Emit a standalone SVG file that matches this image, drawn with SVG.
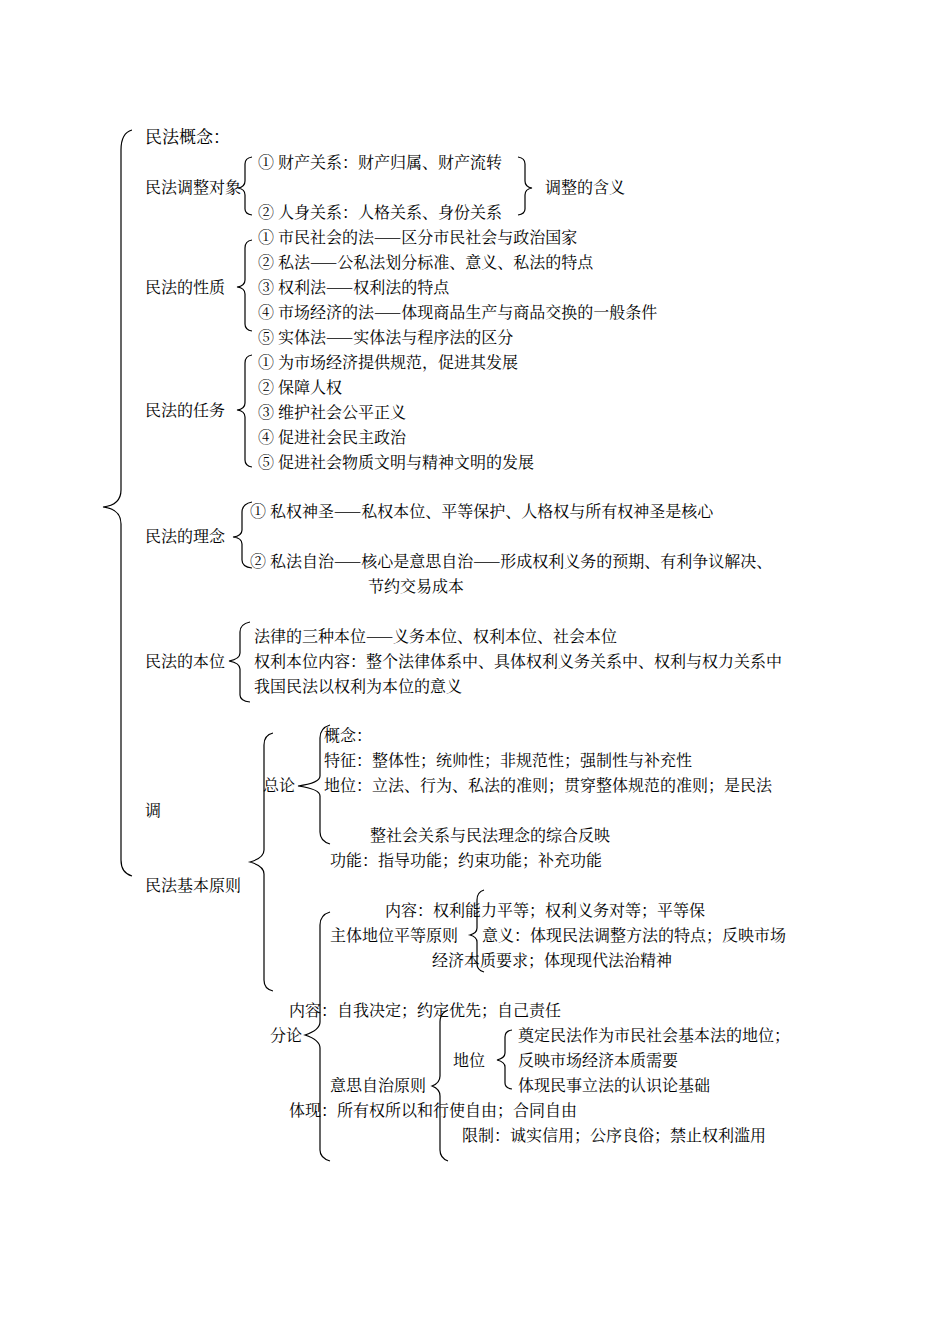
<svg xmlns="http://www.w3.org/2000/svg" width="950" height="1344" viewBox="0 0 950 1344">
<style>
text{font-family:"Noto Serif CJK SC","Noto Sans CJK SC",serif;font-size:16px;fill:#000}
.b{fill:none;stroke:#000;stroke-width:1.2}
</style>
<rect width="950" height="1344" fill="#fff"/>
<g id="connectors">
<path class="b" d="M132,130 Q121,133 121,150 L121,490 Q121,505 103,507 Q121,509 121,524 L121,860 Q121,873 132,876"/>
<path class="b" d="M252,157 Q245,158 245,164 L245,181 Q245,187 238,188 Q245,189 245,195 L245,209 Q245,214 252,215"/>
<path class="b" d="M518,157 Q525,158 525,164 L525,181 Q525,187 532,188 Q525,189 525,195 L525,209 Q525,214 518,215"/>
<path class="b" d="M252,240 Q245,241 245,248 L245,280 Q245,286 237,287 Q245,288 245,294 L245,324 Q245,330 252,331"/>
<path class="b" d="M252,355 Q245,356 245,363 L245,403 Q245,409 237,410 Q245,411 245,417 L245,460 Q245,466 252,467"/>
<path class="b" d="M252,502 Q242,504 242,512 L242,530 Q242,536 233,537 Q242,538 242,544 L242,560 Q242,567 252,568"/>
<path class="b" d="M250,622 Q240,624 240,632 L240,653 Q240,659 229,661 Q240,663 240,669 L240,695 Q240,701 250,702"/>
<path class="b" d="M273,733 Q264,735 264,745 L264,850 Q264,858 250,862 Q264,866 264,874 L264,980 Q264,989 273,991"/>
<path class="b" d="M330,725 Q320,728 320,738 L320,776 Q320,783 298,786 Q320,789 320,796 L320,832 Q320,841 330,844"/>
<path class="b" d="M330,912 Q320,915 320,925 L320,1022 Q320,1030 305,1035 Q320,1040 320,1048 L320,1150 Q320,1158 330,1161"/>
<path class="b" d="M484,890 Q477,892 477,900 L477,928 Q477,933 470,935 Q477,937 477,942 L477,964 Q477,970 484,972"/>
<path class="b" d="M448,1010 Q440,1013 440,1022 L440,1076 Q440,1083 432,1086 Q440,1089 440,1096 L440,1150 Q440,1158 448,1161"/>
<path class="b" d="M512,1030 Q505,1031 505,1037 L505,1053 Q505,1058 497,1060 Q505,1062 505,1067 L505,1083 Q505,1088 512,1089"/>
</g>
<g id="n-root"><text x="145" y="143" style="font-size:17px">民法概念：</text></g>
<g id="n-duixiang">
<text x="145" y="193">民法调整对象</text>
<text x="258" y="168">① 财产关系：财产归属、财产流转</text>
<text x="258" y="218">② 人身关系：人格关系、身份关系</text>
<text x="545" y="193">调整的含义</text>
</g>
<g id="n-xingzhi">
<text x="145" y="293">民法的性质</text>
<text x="258" y="243">① 市民社会的法——区分市民社会与政治国家</text>
<text x="258" y="268">② 私法——公私法划分标准、意义、私法的特点</text>
<text x="258" y="293">③ 权利法——权利法的特点</text>
<text x="258" y="318">④ 市场经济的法——体现商品生产与商品交换的一般条件</text>
<text x="258" y="343">⑤ 实体法——实体法与程序法的区分</text>
</g>
<g id="n-renwu">
<text x="145" y="416">民法的任务</text>
<text x="258" y="368">① 为市场经济提供规范，促进其发展</text>
<text x="258" y="393">② 保障人权</text>
<text x="258" y="418">③ 维护社会公平正义</text>
<text x="258" y="443">④ 促进社会民主政治</text>
<text x="258" y="468">⑤ 促进社会物质文明与精神文明的发展</text>
</g>
<g id="n-linian">
<text x="145" y="542">民法的理念</text>
<text x="250" y="517">① 私权神圣——私权本位、平等保护、人格权与所有权神圣是核心</text>
<text x="250" y="567">② 私法自治——核心是意思自治——形成权利义务的预期、有利争议解决、</text>
<text x="368" y="592">节约交易成本</text>
</g>
<g id="n-benwei">
<text x="145" y="667">民法的本位</text>
<text x="254" y="642">法律的三种本位——义务本位、权利本位、社会本位</text>
<text x="254" y="667">权利本位内容：整个法律体系中、具体权利义务关系中、权利与权力关系中</text>
<text x="254" y="692">我国民法以权利为本位的意义</text>
</g>
<g id="n-yuanze">
<text x="145" y="816">调</text>
<text x="145" y="891">民法基本原则</text>
</g>
<g id="n-zonglun">
<text x="263" y="791">总论</text>
<text x="324" y="741">概念：</text>
<text x="324" y="766">特征：整体性；统帅性；非规范性；强制性与补充性</text>
<text x="324" y="791">地位：立法、行为、私法的准则；贯穿整体规范的准则；是民法</text>
<text x="370" y="841">整社会关系与民法理念的综合反映</text>
<text x="330" y="866">功能：指导功能；约束功能；补充功能</text>
</g>
<g id="n-fenlun">
<text x="270" y="1041">分论</text>
</g>
<g id="n-pingdeng">
<text x="385" y="916">内容：权利能力平等；权利义务对等；平等保</text>
<text x="330" y="941">主体地位平等原则</text>
<text x="482" y="941">意义：体现民法调整方法的特点；反映市场</text>
<text x="432" y="966">经济本质要求；体现现代法治精神</text>
</g>
<g id="n-zizhi">
<text x="289" y="1016">内容：自我决定；约定优先；自己责任</text>
<text x="330" y="1091">意思自治原则</text>
<text x="453" y="1066">地位</text>
<text x="518" y="1041">奠定民法作为市民社会基本法的地位；</text>
<text x="518" y="1066">反映市场经济本质需要</text>
<text x="518" y="1091">体现民事立法的认识论基础</text>
<text x="289" y="1116">体现：所有权所以和行使自由；合同自由</text>
<text x="462" y="1141">限制：诚实信用；公序良俗；禁止权利滥用</text>
</g>
</svg>
